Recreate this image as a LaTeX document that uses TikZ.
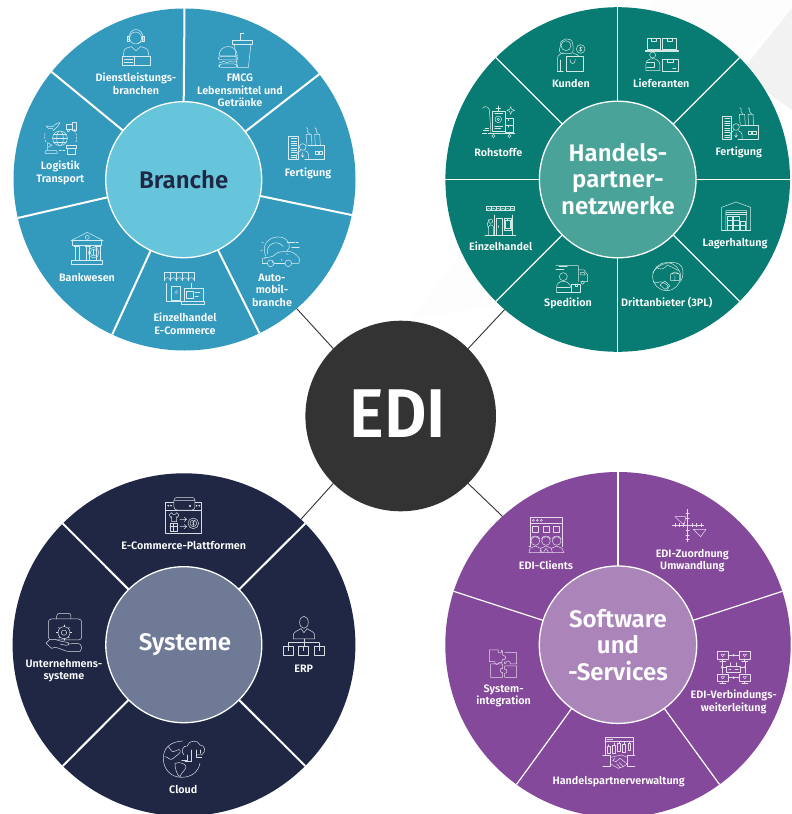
\documentclass[tikz,border=0pt]{standalone}
\usepackage{fontspec}
\setmainfont{Fira Sans}[BoldFont={Fira Sans SemiBold}]
\definecolor{cBlue}{HTML}{339ABE}
\definecolor{cBlueHub}{HTML}{66C5DA}
\definecolor{cGreen}{HTML}{087C72}
\definecolor{cGreenHub}{HTML}{4AA398}
\definecolor{cNavy}{HTML}{1F2744}
\definecolor{cNavyHub}{HTML}{6E7A96}
\definecolor{cPurple}{HTML}{84499A}
\definecolor{cPurpleHub}{HTML}{AB85BA}
\definecolor{cEdi}{HTML}{333333}
\definecolor{cIcoB}{HTML}{D6ECF3}
\definecolor{cIcoG}{HTML}{D2E8E5}
\definecolor{cIcoN}{HTML}{D9DBE2}
\definecolor{cIcoP}{HTML}{E6DAEB}
\tikzset{
  wheel/.style={circle,inner sep=0pt,outer sep=0pt,minimum size=#1},
  hub/.style={circle,inner sep=0pt,outer sep=0pt,minimum size=#1,draw=white,line width=1.3pt},
  divA/.style={draw=white,line width=2pt},
  divB/.style={draw=white,line width=1.2pt},
  link/.style={draw=cEdi,line width=0.9pt},
  lab/.style={align=center,text=white,inner sep=0pt,font=\fontsize{10.8}{12.6}\selectfont\bfseries},
  hubtxt/.style={align=center,inner sep=0pt,font=\fontsize{24}{26.6}\selectfont\bfseries},
  ico/.style={line width=0.5pt,line cap=round,line join=round},
}
\newcommand{\factoryicon}{%
  \draw (0,0) rectangle (29,70);
  \foreach \yy in {8,15,...,64}{\draw (8,\yy)--(24,\yy);}
  \draw (55,30)--(52,-5)--(68,-5)--(70,30);
  \draw (80,30)--(78,-5)--(93,-5)--(95,30);
  \draw (53,-25) .. controls (64,-20) and (50,-15) .. (62,-7);
  \draw (78,-25) .. controls (90,-20) and (76,-15) .. (88,-7);
  \draw (58,28)--(108,28)--(108,70)--(48,70);
  \draw (80,45) rectangle (89,54);
  \draw (92,45) rectangle (102,54);
  \draw (42,33) circle (10);
  \draw (24,70)--(24,56) .. controls (24,48) and (32,46) .. (36,44);
  \draw (48,44) .. controls (54,46) and (60,48) .. (60,56)--(60,70);
  \draw (42,50)--(42,62) (38,58)--(42,64)--(46,58);
}
\begin{document}
\begin{tikzpicture}[x=1pt,y=-1pt]
\useasboundingbox (0,0) rectangle (792,814);
\clip (0,0) rectangle (792,814);
% faint background
\fill[white] (0,0) rectangle (792,814);
\fill[black!0.8] (655,0)--(792,0)--(792,8)--(510,303)--(410,320)--cycle;
\fill[black!5] (792,8)--(740,73)--(792,110)--cycle;

% wheels
\node[wheel=342pt,fill=cBlue]   (wheelA) at (184.5,179.5) {};
\node[wheel=344.6pt,fill=cGreen] (wheelB) at (617.7,179.5) {};
\node[wheel=342.8pt,fill=cNavy]  (wheelC) at (184,644.7) {};
\node[wheel=345.4pt,fill=cPurple](wheelD) at (618,644.7) {};
\node[hub=156pt,fill=cBlueHub]   (hubA) at (183.7,179.7) {};
\node[hub=156.6pt,fill=cGreenHub](hubB) at (617.7,179.5) {};
\node[hub=156pt,fill=cNavyHub]   (hubC) at (183.8,644.7) {};
\node[hub=157.4pt,fill=cPurpleHub](hubD) at (618,644.7) {};
\node[circle,inner sep=0pt,outer sep=0pt,minimum size=190.6pt,fill=cEdi] (edi) at (400.7,416) {};

% connectors
\draw[link] (edi.135) -- (wheelA.-49.8);
\draw[link] (edi.45)  -- (wheelB.229.6);
\draw[link] (edi.225) -- (wheelC.47.7);
\draw[link] (edi.-45) -- (wheelD.132.4);

% dividers
\foreach \a in {90,38.57,-12.86,-64.29,-115.71,-167.14,141.43}
  \draw[divA] (hubA.\a) -- (wheelA.\a);
\foreach \a in {0,45,...,315}
  \draw[divB] (hubB.\a) -- (wheelB.\a);
\foreach \a in {45,135,225,315}
  \draw[divA] (hubC.\a) -- (wheelC.\a);
\foreach \a in {90,18,-54,-126,162}
  \draw[divB] (hubD.\a) -- (wheelD.\a);

% hub texts
\node[hubtxt,text=cNavy] (tA) at (183.7,180) {Branche};
\node[hubtxt,text=white] (tB) at (618,179) {Handels-\\partner-\\netzwerke};
\node[hubtxt,text=white] (tC) at (185,645) {Systeme};
\node[hubtxt,text=white] (tD) at (618,645) {Software\\und\\-Services};
\node[inner sep=0pt,text=white,font=\fontsize{69}{69}\selectfont\bfseries] (tE) at (397.7,414) {\scalebox{0.95}[1]{EDI}};

% labels
\node[lab] (a1) at (136,84) {Dienstleistungs-\\branchen};
\node[lab] (a2) at (240,90.5) {FMCG\\Lebensmittel und\\Getränke};
\node[lab] (a3) at (308,173) {Fertigung};
\node[lab] (a4) at (272,290) {Auto-\\mobil-\\branche};
\node[lab] (a5) at (185,323.7) {Einzelhandel\\E-Commerce};
\node[lab] (a6) at (87,277) {Bankwesen};
\node[lab] (a7) at (60.3,172.7) {Logistik\\Transport};
\node[lab] (b1) at (571,83.3) {Kunden};
\node[lab] (b2) at (661.3,83.3) {Lieferanten};
\node[lab] (b3) at (738.7,152.3) {Fertigung};
\node[lab] (b4) at (735,243.3) {Lagerhaltung};
\node[lab] (b5) at (666.7,303) {Drittanbieter (3PL)};
\node[lab] (b6) at (568,303) {Spedition};
\node[lab] (b7) at (500.7,246.3) {Einzelhandel};
\node[lab] (b8) at (498.3,152.3) {Rohstoffe};
\node[lab] (c1) at (183.7,545.3) {E-Commerce-Plattformen};
\node[lab] (c2) at (303.7,668.3) {ERP};
\node[lab] (c3) at (183.3,789) {Cloud};
\node[lab] (c4) at (64,670.7) {Unternehmens-\\systeme};
\node[lab] (d1) at (546,565.3) {EDI-Clients};
\node[lab] (d2) at (692.3,560.7) {EDI-Zuordnung\\Umwandlung};
\node[lab] (d3) at (733.7,701.7) {EDI-Verbindungs-\\weiterleitung};
\node[lab] (d4) at (618.7,781.3) {Handelspartnerverwaltung};
\node[lab] (d5) at (503.7,696) {System-\\integration};

% ===== icons, Branche =====
\begin{scope}[x=0.3333pt,y=-0.3333pt,ico,draw=cIcoB]
  % service desk
  \draw (407,114) circle (18);
  \draw (386,120) .. controls (384,78) and (432,78) .. (430,120);
  \draw (383,110) rectangle (389,124) (426,110) rectangle (432,124);
  \draw (430,122)--(414,131);
  \draw (370,168)--(372,152) .. controls (374,144) and (386,142) .. (394,140)--(408,152)--(422,140) .. controls (432,142) and (442,146) .. (444,152)--(447,168);
  \draw (367,168) rectangle (450,196);
  \draw (404,168)--(404,196);
  \draw (373,178)--(398,178) (373,186)--(398,186);
  % burger and drink
  \draw (698,122) rectangle (757,132);
  \draw (703,132)--(712,203)--(745,203)--(753,132);
  \draw (722,122)--(722,100)--(732,100);
  \draw (657,168) .. controls (657,130) and (712,130) .. (712,168)--cycle;
  \draw[rounded corners=2pt] (655,170) rectangle (714,180);
  \draw (657,186) .. controls (664,192) and (668,180) .. (676,186) .. controls (684,192) and (688,180) .. (696,186) .. controls (702,190) and (706,182) .. (713,186);
  \draw[rounded corners=3pt] (657,192) rectangle (712,203);
  % car and gear
  \draw (797,768) .. controls (780,730) and (815,705) .. (845,712) .. controls (868,718) and (875,740) .. (862,752);
  \foreach \t in {100,135,170,205,60,25}{\draw (825,745) ++(\t:38) -- ++(\t:6);}
  \draw (803,762) .. controls (795,735) and (830,715) .. (850,740);
  \draw (787,790)--(788,775) .. controls (800,772) and (812,772) .. (820,768) .. controls (830,758) and (838,755) .. (850,755)--(872,755) .. controls (885,760) and (895,768) .. (899,778)--(897,790)--(876,790);
  \draw (802,790)--(787,790) (823,790)--(854,790);
  \draw (812,790) circle (10) (865,790) circle (10);
  \draw (862,728)--(885,728) (875,742)--(898,742);
  \draw[dash pattern=on 3pt off 1pt] (888,728)--(895,728);
  % shop
  \draw (493,818)--(583,818)--(583,842) (493,818)--(493,842);
  \foreach \xx in {493,511,529,547,565} {\draw (\xx,842) arc (180:360:9);\draw (\xx,818)--(\xx,842);}
  \draw (500,850)--(500,905)--(545,905) (575,850)--(575,865);
  \draw (515,858) rectangle (540,900);
  \draw (525,878)--(530,872) (527,882)--(534,875);
  \draw (553,865) rectangle (610,905);
  \draw (545,905)--(613,905)--(613,913)--(545,913)--cycle;
  \draw (560,873) rectangle (580,895);
  \draw (585,878)--(600,878) (585,888)--(595,888);
  % bank
  \draw (213,722)--(262,697)--(310,722)--cycle;
  \draw (262,712) circle (6);
  \draw (218,722) rectangle (305,735);
  \draw (222,738)--(240,738) (225,738)--(225,782) (237,738)--(237,782) (222,782)--(240,782);
  \draw (255,738)--(272,738) (258,738)--(258,782) (269,738)--(269,782);
  \draw (285,738)--(303,738) (288,738)--(288,782) (300,738)--(300,782);
  \draw (281,758) circle (16) (281,758) circle (10);
  \draw (281,750)--(281,766);
  \draw (215,782) rectangle (308,792);
  % logistics
  \draw (180,415) circle (22) (180,415) ellipse (10 and 22);
  \draw (158,415)--(202,415) (161,404)--(199,404) (161,426)--(199,426);
  \draw (138,378)--(158,380)--(170,370)--(180,368)--(172,380)--(160,392)--(158,386)--(145,385)--cycle;
  \draw (198,372) rectangle (218,388);
  \draw (218,368) rectangle (230,392);
  \draw (205,392) circle (4) (224,392) circle (4);
  \draw (143,450)--(143,428)--(156,436)--(143,442);
  \draw (135,460)--(172,460) (137,452)--(170,452)--(172,460) (137,452)--(135,460);
  \draw (198,437) rectangle (230,444);
  \draw (202,444) rectangle (226,462);
  \draw[dash pattern=on 2pt off 1.5pt] (135,400) .. controls (132,410) and (135,425) .. (140,428);
  \draw[dash pattern=on 2pt off 1.5pt] (228,400) .. controls (232,412) and (230,425) .. (226,430);
  \draw[dash pattern=on 2pt off 1.5pt] (178,452)--(198,452);
\end{scope}
\begin{scope}[shift={(288.7,136)},x=0.3333pt,y=-0.3333pt,ico,draw=cIcoB]
  \factoryicon
\end{scope}

% ===== icons, Handels =====
\begin{scope}[shift={(430,0)},x=0.3333pt,y=-0.3333pt,ico,draw=cIcoG]
  % customer
  \draw (408,137) circle (15);
  \draw (392,135) .. controls (388,115) and (425,108) .. (428,130) .. controls (430,145) and (432,155) .. (424,160)--(393,160) .. controls (384,152) and (390,145) .. (392,135);
  \draw (382,215)--(382,175) .. controls (384,165) and (393,160) .. (400,158);
  \draw (430,160) .. controls (440,163) and (445,165) .. (448,170);
  \draw (382,215)--(400,215) (392,180)--(392,215);
  \draw (408,170) rectangle (460,215);
  \draw (420,178) .. controls (420,195) and (436,195) .. (436,178);
  \draw (452,147) circle (13);
  \draw (452,140)--(452,154) (457,142) .. controls (448,140) and (447,147) .. (452,147) .. controls (458,148) and (456,154) .. (447,152);
  % suppliers
  \draw (652,116) rectangle (692,148) (698,116) rectangle (740,148);
  \draw (665,116)--(665,125)--(679,125)--(679,116) (712,116)--(712,125)--(726,125)--(726,116);
  \draw (645,150) rectangle (745,155);
  \draw (668,165) circle (9);
  \draw (648,212)--(648,192) .. controls (648,182) and (658,176) .. (668,176) .. controls (680,176) and (690,184) .. (690,195)--(690,212)--cycle;
  \draw (650,188)--(674,188)--(674,202)--(650,202);
  \draw (697,178) rectangle (745,213);
  \draw (712,178)--(712,187)--(730,187)--(730,178) (728,205)--(738,205);
  % warehouse
  \draw (875,692)--(875,622)--(918,606)--(962,622)--(962,692)--(950,692)--(950,632)--(888,632)--(888,692)--cycle;
  \foreach \yy in {638,644} {\draw (888,\yy)--(950,\yy);}
  \draw (892,648) rectangle (908,660) (911,648) rectangle (928,660);
  \draw (892,660) rectangle (908,676) (911,660) rectangle (928,676) (930,664) rectangle (946,676);
  \draw (892,676) rectangle (908,692) (911,676) rectangle (928,692) (930,676) rectangle (946,692);
  \draw (875,692)--(962,692);
  % 3PL globe
  \draw (710,830) circle (42);
  \draw (668,820) .. controls (680,790) and (740,775) .. (755,800) .. controls (762,812) and (760,830) .. (752,845);
  \draw (678,800) .. controls (690,815) and (705,805) .. (712,795) .. controls (722,800) and (735,805) .. (745,812);
  \draw (670,845) .. controls (680,855) and (690,840) .. (700,848) .. controls (715,855) and (718,862) .. (712,870);
  \draw (722,822) rectangle (748,842) (722,822)--(735,816)--(748,822) (735,828)--(735,842);
  \draw (690,855)--(705,843)--(720,858)--(705,868)--cycle;
  % truck and driver
  \draw (378,797)--(445,797)--(445,845) (445,810)--(462,810)--(473,825)--(473,845)--(452,845);
  \draw (452,817)--(462,817)--(466,825)--(452,825)--cycle;
  \draw (458,848) circle (5);
  \draw (388,800)--(412,800) (378,808)--(402,808);
  \draw (400,830) circle (12);
  \draw (380,877)--(380,860) .. controls (380,850) and (390,844) .. (400,844) .. controls (412,844) and (420,852) .. (422,862);
  \draw (380,877)--(424,877) (382,862)--(420,862);
  \draw (425,852) rectangle (452,877) (435,852)--(435,860)--(443,860)--(443,852);
  % retail
  \draw (170,620) rectangle (253,632);
  \foreach \xx in {170,184,198,212,226,240} {\draw (\xx,632) arc (180:360:6.7);\draw (\xx,620)--(\xx,632);}
  \draw (192,645)--(192,705) (248,645)--(248,705);
  \draw (198,655) rectangle (218,705);
  \draw (205,678)--(205,682);
  \draw (222,655) rectangle (245,690);
  \draw (226,660) rectangle (241,685);
  \draw (233,655)--(233,660);
  \draw (182,664) circle (6);
  \draw (175,705)--(175,680) .. controls (176,674) and (186,672) .. (190,680)--(190,705);
  \draw (175,685)--(172,672)--(177,658);
  \draw (165,705)--(258,705);
  % raw materials
  \draw (158,325) .. controls (158,318) and (175,318) .. (178,328)--(183,400);
  \draw (188,335) rectangle (225,395);
  \draw (205,358) circle (10) (205,358) circle (4);
  \draw (194,340)--(218,340) (194,378)--(218,378) (194,386)--(212,386);
  \draw (225,355) rectangle (250,375) (225,375) rectangle (250,398);
  \draw (235,355)--(235,362) (235,375)--(235,382);
  \draw (175,400)--(255,400);
  \draw (190,408) circle (5) (238,408) circle (5);
  \draw (205,318)--(205,332) (198,325)--(212,325);
  \draw (242,320) .. controls (243,328) and (245,329) .. (254,331) .. controls (245,333) and (243,334) .. (242,343) .. controls (241,334) and (239,333) .. (231,331) .. controls (239,329) and (241,328) .. (242,320);
  \draw (165,385)--(176,385) (160,392)--(176,392) (157,399)--(170,399);
\end{scope}
\begin{scope}[shift={(722,116)},x=0.3333pt,y=-0.3333pt,ico,draw=cIcoG]
  \factoryicon
\end{scope}

% ===== icons, Systeme =====
\begin{scope}[shift={(0,460)},x=0.3333pt,y=-0.3333pt,ico,draw=cIcoN]
  % e-commerce
  \draw (497,127) rectangle (605,220);
  \draw (497,150)--(605,150);
  \draw[fill=cNavy,rounded corners=3pt] (522,112) rectangle (585,150);
  \draw (522,122)--(585,122) (570,138) circle (3);
  \draw (505,137) circle (2) (513,137) circle (2) (590,137) circle (2) (598,137) circle (2);
  \draw (515,158)--(508,165)--(512,172)--(515,170)--(515,185)--(530,185)--(530,170)--(533,172)--(537,165)--(530,158)--(526,163)--(519,163)--cycle;
  \draw (510,190) rectangle (532,215) (510,200)--(532,200) (521,190)--(521,215);
  \draw (540,178)--(560,178) (553,172)--(560,178)--(553,184);
  \draw (540,200)--(560,200) (553,194)--(560,200)--(553,206);
  \draw (580,190) circle (16) (580,190) circle (10);
  \draw (580,183)--(580,197) (584,185) .. controls (577,183) and (576,190) .. (580,190) .. controls (585,190) and (584,197) .. (576,195);
  % ERP
  \draw (912,487) ellipse (13 and 18);
  \draw (880,537)--(880,525) .. controls (880,515) and (895,512) .. (903,506);
  \draw (921,506) .. controls (929,512) and (944,515) .. (944,525)--(944,537)--(880,537);
  \draw (903,506)--(912,518)--(921,506);
  \draw (912,537)--(912,560) (865,548)--(958,548) (865,548)--(865,560) (958,548)--(958,560);
  \draw (850,560) rectangle (880,586) (895,560) rectangle (925,586) (943,560) rectangle (973,586);
  \draw (865,560)--(865,572) (910,560)--(910,572) (958,560)--(958,572);
  % enterprise
  \draw[rounded corners=3pt] (145,477) rectangle (245,540);
  \draw (170,477)--(170,468) .. controls (170,462) and (175,460) .. (180,460)--(205,460) .. controls (210,460) and (213,463) .. (213,468)--(213,477);
  \draw[fill=cNavy] (138,550)--(150,538) .. controls (160,535) and (170,540) .. (180,543)--(205,548) .. controls (210,552) and (205,558) .. (198,556)--(180,552) (205,552)--(232,550) .. controls (245,550) and (248,565) .. (240,575)--(210,575) .. controls (195,575) and (175,562) .. (165,562)--(155,565)--(138,550);
  \draw[fill=cNavy] (192,518) circle (18) (192,518) circle (8);
  \foreach \t in {0,45,...,315}{\draw (192,518) ++(\t:18) -- ++(\t:5);}
  % cloud globe
  \draw (548,843) .. controls (510,845) and (490,865) .. (490,895) .. controls (490,930) and (515,952) .. (545,952) .. controls (575,952) and (595,935) .. (600,910);
  \draw (505,860) .. controls (515,865) and (510,875) .. (520,875) .. controls (530,875) and (535,865) .. (540,870) .. controls (545,880) and (530,885) .. (520,895) .. controls (510,905) and (505,890) .. (495,890);
  \draw (525,910) .. controls (540,905) and (555,910) .. (558,920) .. controls (558,930) and (545,935) .. (540,950) .. controls (530,945) and (525,925) .. (525,910);
  \draw (552,885) .. controls (540,875) and (550,855) .. (562,858) .. controls (565,840) and (595,838) .. (600,855) .. controls (615,855) and (620,875) .. (605,885)--(590,885);
  \draw (562,885)--(562,900)--(545,900) (575,870)--(575,905)--(555,905) (590,870)--(590,892)--(605,892) (600,870)--(600,880);
\end{scope}

% ===== icons, Software =====
\begin{scope}[shift={(430,460)},x=0.3333pt,y=-0.3333pt,ico,draw=cIcoP]
  % clients
  \draw (297,260)--(301,260)--(301,172)--(397,172)--(397,260);
  \draw (301,190)--(397,190);
  \draw (310,181) circle (3) (322,181) circle (3) (334,181) circle (3);
  \draw (308,198) rectangle (326,216) (340,198) rectangle (358,216) (371,198) rectangle (389,216);
  \foreach \xx in {316,348,380}{
    \draw[fill=cPurple] (\xx,243) circle (13);
    \draw (\xx-14,237) .. controls (\xx-10,225) and (\xx+10,225) .. (\xx+14,237);
  }
  \draw (297,278)--(300,265)--(316,258)--(332,265)--(335,278) (332,265)--(348,258)--(364,265)--(367,278) (364,265)--(380,258)--(396,265)--(402,278) (297,278)--(402,278) (330,278)--(333,265);
  \draw (340,278)--(348,265)--(356,278);
  % mapping
  \draw (773,148)--(773,245) (727,195)--(822,195);
  \foreach \yy in {160,175,210,225,238}{\draw (768,\yy)--(778,\yy);}
  \foreach \xx in {735,748,761,787,800,813}{\draw (\xx,190)--(\xx,200);}
  \draw (735,170)--(768,170)--(762,195)--cycle;
  \draw (790,208)--(828,208)--(812,230)--cycle;
  % routing
  \foreach \xx/\yy in {862/575,928/575,862/642,928/642}{
    \draw (\xx,\yy) rectangle (\xx+33,\yy+22);
    \draw (\xx+16,\yy+22)--(\xx+16,\yy+29) (\xx+7,\yy+29)--(\xx+26,\yy+29);
    \draw (\xx+11,\yy+8)--(\xx+22,\yy+8)--(\xx+16,\yy+15)--cycle;
  }
  \draw (895,586)--(928,586) (895,653)--(928,653);
  \draw (911,586) circle (3) (911,653) circle (3);
  \draw (876,605)--(876,640) (945,605)--(945,640);
  \draw (876,622) circle (3) (945,622) circle (3);
  \draw (880,622)--(890,622) (930,622)--(941,622);
  \draw (890,620) rectangle (930,636);
  \draw (900,620)--(900,608) (920,620)--(920,608);
  \draw (897,628)--(903,628) (915,628)--(925,628);
  % partner management
  \draw (525,885)--(525,833)--(610,833)--(610,885);
  \draw (525,843)--(610,843);
  \draw (530,838)--(548,838);
  \foreach \xx/\yl/\yh in {536/860/880,552/855/880,567/850/875,582/852/877,598/850/870}{
    \draw (\xx-4,\yl) rectangle (\xx+4,\yh);
    \draw (\xx,\yl-6)--(\xx,\yl);
  }
  \draw (518,885)--(542,885)--(542,920)--(518,920) (615,885)--(592,885)--(592,920)--(615,920);
  \draw (542,892)--(560,888)--(575,885)--(592,892) (555,895)--(548,902)--(558,905)--(570,895)--(592,912);
  \draw (542,912)--(565,925)--(580,920)--(592,912) (560,912)--(570,922) (568,908)--(578,918);
  % puzzle
  \draw (178,570)--(205,570) .. controls (200,580) and (215,582) .. (215,575)--(215,570);
  \draw (178,570)--(178,605)--(195,605) .. controls (190,612) and (205,618) .. (207,608)--(215,608)--(218,598) .. controls (228,602) and (232,588) .. (218,585)--(218,575)--(215,570);
  \draw (225,578)--(260,578)--(260,612)--(240,612) .. controls (245,604) and (230,598) .. (228,608)--(224,612)--(224,605);
  \draw (182,612)--(218,612)--(218,625) .. controls (208,622) and (208,640) .. (218,638)--(218,652)--(182,652)--cycle;
  \draw (224,618)--(260,618)--(260,652)--(224,652)--(224,640) .. controls (232,642) and (234,626) .. (224,628)--cycle;
\end{scope}
\end{tikzpicture}
\end{document}
